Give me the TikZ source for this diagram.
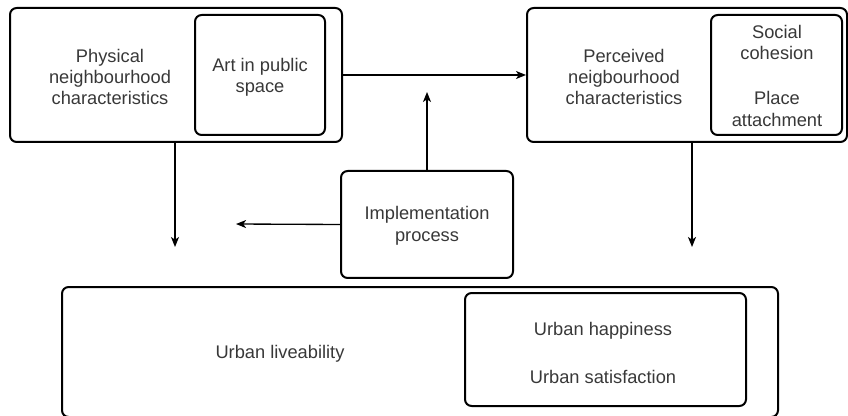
\documentclass[tikz,border=0pt]{standalone}
\usepackage{fontspec}
\setmainfont{Liberation Sans}
\usepackage{tikz}
\usetikzlibrary{
    arrows.meta,
    calc,
    positioning
}

\begin{document}
\begin{tikzpicture}[x=0.75pt, y=-0.75pt,
                        box/.style={draw, line width=1.5pt, rounded corners=5pt, inner sep=0pt},
                        lbl/.style={align=center, text=black!78, font=\fontsize{13.7}{16.1}\selectfont},
                        conn/.style={line width=1pt, -{Stealth[length=7.5pt, width=6pt, inset=2pt]}}]
                                \useasboundingbox (0, 0) rectangle (848, 416);
                                \node[box, minimum width=332*0.75pt, minimum height=134*0.75pt] (phys) at (176, 75) {};
                                \node[box, minimum width=130*0.75pt, minimum height=120*0.75pt] (art) at (260, 75) {};
                                \node[box, minimum width=320*0.75pt, minimum height=134*0.75pt] (perc) at (687, 75) {};
                                \node[box, minimum width=131*0.75pt, minimum height=120*0.75pt] (social) at (776.5, 75) {};
                                \node[box, minimum width=172*0.75pt, minimum height=107*0.75pt] (impl) at (427, 224.5) {};
                                \node[box, minimum width=716*0.75pt, minimum height=130*0.75pt] (liv) at (420, 352) {};
                                \node[box, minimum width=281*0.75pt, minimum height=113*0.75pt] (happy) at (605.5, 349.5) {};
                                \node[lbl] (physlbl) at (110, 77) {Physical\\neighbourhood\\characteristics};
                                \node[lbl] (artlbl) at (260, 77.5) {Art in public\\space};
                                \node[lbl] (perclbl) at (624, 77) {Perceived\\neigbourhood\\characteristics};
                                \node[lbl] (soclbl) at (777, 42.5) {Social\\cohesion};
                                \node[lbl] (placelbl) at (777, 109) {Place\\attachment};
                                \node[lbl] (impllbl) at (427, 226) {Implementation\\process};
                                \node[lbl] (livlbl) at (280, 354) {Urban liveability};
                                \node[lbl] (haplbl) at (603, 331) {Urban happiness};
                                \node[lbl] (satlbl) at (603, 377) {Urban satisfaction};
                                \coordinate (upend) at (427, 92);
                                \coordinate (leftend) at (236, 224);
                                \coordinate (downone) at (175, 247);
                                \coordinate (downtwo) at (692, 247);
                                \draw[conn] (phys.east) -- (perc.west);
                                \draw[conn] (impl.north) -- (upend);
                                \draw[conn] (impl.west) -- (leftend);
                                \draw[conn] (downone |- phys.south) -- (downone);
                                \draw[conn] (downtwo |- perc.south) -- (downtwo);
                            \end{tikzpicture}
\end{document}
